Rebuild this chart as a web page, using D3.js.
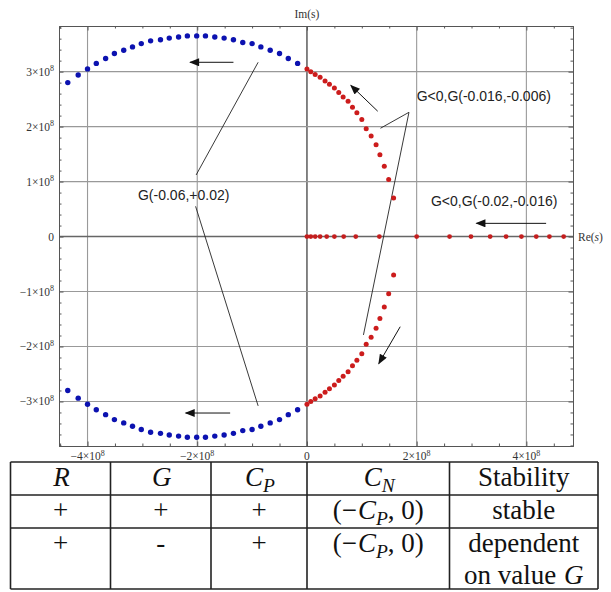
<!DOCTYPE html>
<html>
<head>
<meta charset="utf-8">
<script src="https://cdn.jsdelivr.net/npm/d3@7"></script>
<style>
body { margin: 0; background: #fff; }
</style>
</head>
<body>
<div id="chart"></div>
<script>
// all values in units of 1e8
var blueRe = [-4.36, -4.17, -4.00, -3.84, -3.67, -3.51, -3.34, -3.18, -3.02, -2.85, -2.67, -2.51, -2.34,
              -2.18, -2.01, -1.85, -1.68, -1.51, -1.34, -1.17, -1.00, -0.84, -0.67, -0.50, -0.34, -0.17];
var blueIm = [2.80, 2.94, 3.05, 3.15, 3.24, 3.33, 3.39, 3.45, 3.51, 3.56, 3.58, 3.61, 3.63,
              3.65, 3.65, 3.65, 3.63, 3.61, 3.58, 3.53, 3.51, 3.45, 3.39, 3.33, 3.24, 3.15];
var redRe = [0.00, 0.07, 0.15, 0.24, 0.33, 0.41, 0.50, 0.58, 0.66, 0.75,
             0.83, 0.91, 1.00, 1.08, 1.17, 1.26, 1.33, 1.41, 1.49, 1.58];
var redIm = [3.05, 3.00, 2.95, 2.90, 2.83, 2.77, 2.70, 2.62, 2.54, 2.46,
             2.35, 2.25, 2.13, 1.96, 1.83, 1.67, 1.49, 1.28, 1.04, 0.70];
var realRe = [0.00, 0.07, 0.15, 0.24, 0.36, 0.50, 0.67, 0.89, 1.32, 2.00,
              2.60, 2.99, 3.34, 3.63, 3.91, 4.18, 4.42, 4.68];

var xTicks = [-4, -2, 0, 2, 4];
var yTicks = [-3, -2, -1, 0, 1, 2, 3];

// annotation arrows [re1, im1, re2, im2], head at the second point
var arrows = [[-1.34, 3.17, -2.13, 3.17], [-1.40, -3.21, -2.21, -3.21], [1.29, 2.28, 0.80, 2.75],
              [1.70, -1.64, 1.31, -2.31], [4.36, 0.24, 3.09, 0.24]];
// label leader lines
var leaders = [[-2.02, 1.12, -0.89, 3.17], [-2.03, 0.55, -0.89, -3.08],
               [1.86, 2.26, 1.34, 1.97], [1.86, 2.26, 1.03, -1.79]];
var labelText = ["G(-0.06,+0.02)", "G<0,G(-0.016,-0.006)", "G<0,G(-0.02,-0.016)"];
var labelRe = [-3.08, 2.00, 2.26];
var labelIm = [0.67, 2.46, 0.55];

// table, $...$ is math (italic, _ = subscript)
var tableRows = [
  ["$R$", "$G$", "$C_P$", "$C_N$", "Stability"],
  ["+", "+", "+", "($-C_P$, 0)", "stable"],
  ["+", "-", "+", "($-C_P$, 0)", "dependent|on value $G$"]
];

var W = 611, H = 592;
var margin = {top: 26, left: 59, right: 38, bottom: 146};
var width = W - margin.left - margin.right,
    height = H - margin.top - margin.bottom;

var svg = d3.select("#chart").append("svg")
    .attr("width", W)
    .attr("height", H)
    .style("font-family", "Liberation Serif");

var g = svg.append("g")
    .attr("transform", "translate(" + margin.left + "," + margin.top + ")");

var x = d3.scaleLinear().domain([-4.52, 4.85]).range([0, width]);
var y = d3.scaleLinear().domain([-3.81, 3.83]).range([height, 0]);

// grid
g.selectAll(".gx").data(xTicks).enter().append("line")
    .attr("x1", d => x(d)).attr("x2", d => x(d))
    .attr("y1", 0).attr("y2", height)
    .attr("stroke", d => d == 0 ? "#666" : "#999")
    .attr("stroke-width", d => d == 0 ? 1.6 : 1.1);
g.selectAll(".gy").data(yTicks).enter().append("line")
    .attr("y1", d => y(d)).attr("y2", d => y(d))
    .attr("x1", 0).attr("x2", width)
    .attr("stroke", d => d == 0 ? "#666" : "#999")
    .attr("stroke-width", d => d == 0 ? 1.6 : 1.1);

// frame ticks
var xMinor = d3.range(-4.5, 4.86, 0.5).filter(v => Math.abs(v % 2) > 0.01);
var yMinor = d3.range(-38, 39, 2).map(v => v / 10).filter(v => Math.abs(v - Math.round(v)) > 0.01);

function frameAxis(axis, scale, major, minor, tr) {
  var a = g.append("g").attr("transform", tr);
  a.call(axis(scale).tickValues(major).tickSize(-4.5).tickFormat(""));
  var m = g.append("g").attr("transform", tr);
  m.call(axis(scale).tickValues(minor).tickSize(-2.5).tickFormat(""));
  m.select(".domain").remove();
  g.selectAll(".domain").attr("stroke", "#555");
  g.selectAll(".tick line").attr("stroke", "#555");
  return a;
}
frameAxis(d3.axisBottom, x, xTicks, xMinor, "translate(0," + height + ")");
frameAxis(d3.axisTop, x, xTicks, xMinor, "translate(0,0)");
frameAxis(d3.axisLeft, y, yTicks, yMinor, "translate(0,0)");
frameAxis(d3.axisRight, y, yTicks, yMinor, "translate(" + width + ",0)");

function sciLabel(sel, v) {
  if (v == 0) { sel.text("0"); return; }
  sel.append("tspan").text((v < 0 ? "\u2212" : "") + Math.abs(v) + "\u00d710");
  sel.append("tspan").text("8").attr("font-size", 8).attr("dy", -4.5);
}

g.selectAll(".xl").data(xTicks).enter().append("text")
    .attr("x", d => x(d)).attr("y", height + 14)
    .attr("text-anchor", "middle")
    .attr("font-size", 11.5).attr("fill", "#333")
    .each(function(d) { sciLabel(d3.select(this), d); });
g.selectAll(".yl").data(yTicks).enter().append("text")
    .attr("x", -5).attr("y", d => y(d) + 4)
    .attr("text-anchor", "end")
    .attr("font-size", 11.5).attr("fill", "#333")
    .each(function(d) { sciLabel(d3.select(this), d); });

g.append("text").attr("x", x(0)).attr("y", -8).attr("text-anchor", "middle")
    .attr("font-size", 11.5).attr("fill", "#333").text("Im(s)");
var re = g.append("text").attr("x", width + 5).attr("y", y(0) + 4)
    .attr("font-size", 11.5).attr("fill", "#333");
re.append("tspan").text("Re(");
re.append("tspan").text("s").attr("font-style", "italic");
re.append("tspan").text(")");

// arrow marker
svg.append("defs").append("marker")
    .attr("id", "head").attr("viewBox", "0 0 10 8")
    .attr("refX", 9).attr("refY", 4)
    .attr("markerWidth", 11).attr("markerHeight", 8)
    .attr("markerUnits", "userSpaceOnUse")
    .attr("orient", "auto")
    .append("path").attr("d", "M0,0 L10,4 L0,8 Z").attr("fill", "#111");

g.selectAll(".lead").data(leaders).enter().append("line")
    .attr("x1", d => x(d[0])).attr("y1", d => y(d[1]))
    .attr("x2", d => x(d[2])).attr("y2", d => y(d[3]))
    .attr("stroke", "#222").attr("stroke-width", 0.9);

g.selectAll(".arr").data(arrows).enter().append("line")
    .attr("x1", d => x(d[0])).attr("y1", d => y(d[1]))
    .attr("x2", d => x(d[2])).attr("y2", d => y(d[3]))
    .attr("stroke", "#111").attr("stroke-width", 1)
    .attr("marker-end", "url(#head)");

// points
var blue = blueRe.map((v, i) => [v, blueIm[i]]).concat(blueRe.map((v, i) => [v, -blueIm[i]]));
var red = redRe.map((v, i) => [v, redIm[i]]).concat(redRe.map((v, i) => [v, -redIm[i]]));

g.selectAll(".pb").data(blue).enter().append("circle")
    .attr("cx", d => x(d[0])).attr("cy", d => y(d[1]))
    .attr("r", 2.7).attr("fill", "#0c12b0");
g.selectAll(".pr").data(red).enter().append("circle")
    .attr("cx", d => x(d[0])).attr("cy", d => y(d[1]))
    .attr("r", 2.5).attr("fill", "#cc1c1c");
g.selectAll(".px").data(realRe).enter().append("circle")
    .attr("cx", d => x(d)).attr("cy", y(0))
    .attr("r", 2.4).attr("fill", "#c41e1e");

// annotation labels
g.selectAll(".lab").data(labelText).enter().append("text")
    .attr("x", (d, i) => x(labelRe[i])).attr("y", (d, i) => y(labelIm[i]))
    .attr("font-family", "Liberation Sans").attr("font-size", 14)
    .attr("fill", "#222")
    .text(d => d);

// table
var colX = [10.5, 110.5, 211, 307, 449.5, 598];
var rowY = [462, 495, 528, 589];
var tbl = svg.append("g");
colX.forEach(function(cx) {
  tbl.append("line").attr("x1", cx).attr("x2", cx).attr("y1", rowY[0]).attr("y2", rowY[3])
      .attr("stroke", "#222").attr("stroke-width", 1.6);
});
rowY.forEach(function(ry) {
  tbl.append("line").attr("x1", colX[0]).attr("x2", colX[5]).attr("y1", ry).attr("y2", ry)
      .attr("stroke", "#222").attr("stroke-width", 1.6);
});

function richText(t, str) {
  var parts = str.split("$");
  var off = 0;
  parts.forEach(function(p, k) {
    if (k % 2 == 0) {
      if (p) { t.append("tspan").text(p).attr("dy", -off); off = 0; }
      return;
    }
    for (var c = 0; c < p.length; c++) {
      var ch = p[c];
      if (ch == "-") { t.append("tspan").text("\u2212").attr("dy", -off); off = 0; }
      else if (ch == "_") {
        c++;
        t.append("tspan").text(p[c]).attr("font-style", "italic")
            .attr("font-size", "0.72em").attr("dy", 6 - off);
        off = 6;
      }
      else { t.append("tspan").text(ch).attr("font-style", "italic").attr("dx", 1).attr("dy", -off); off = 0; }
    }
  });
}

var baseY = [[486], [519], [552, 584]];
tableRows.forEach(function(row, r) {
  row.forEach(function(cell, c) {
    var lines = cell.split("|");
    lines.forEach(function(ln, k) {
      var t = tbl.append("text")
          .attr("x", (colX[c] + colX[c + 1]) / 2)
          .attr("y", baseY[r][k])
          .attr("text-anchor", "middle")
          .attr("font-size", 27).attr("fill", "#111");
      richText(t, ln);
    });
  });
});
</script>
</body>
</html>
